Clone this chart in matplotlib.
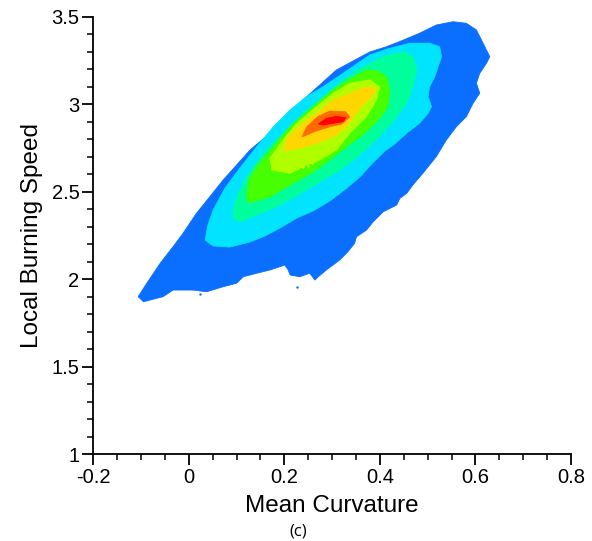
import matplotlib.pyplot as plt
from matplotlib.ticker import MultipleLocator

# Joint PDF of local burning speed vs mean curvature, drawn as filled
# iso-probability bands (outermost level first).

# level 1 (lowest probability)
L1_X = [-0.106, -0.095, -0.054, -0.033, 0.009, 0.037, 0.072, 0.100, 0.114, 0.142,
        0.170, 0.201, 0.208, 0.212, 0.232, 0.253, 0.264, 0.271, 0.288, 0.316,
        0.333, 0.347, 0.351, 0.372, 0.386, 0.407, 0.435, 0.442, 0.456, 0.469,
        0.490, 0.518, 0.539, 0.560, 0.581, 0.595, 0.609, 0.602, 0.609, 0.623,
        0.630, 0.616, 0.602, 0.581, 0.553, 0.518, 0.483, 0.449, 0.414, 0.379,
        0.309, 0.239, 0.170, 0.128, 0.100, 0.072, 0.044, 0.016, -0.012, -0.033,
        -0.060, -0.088]
L1_Y = [1.900, 1.871, 1.900, 1.938, 1.938, 1.928, 1.957, 1.977, 2.014, 2.034,
        2.053, 2.081, 2.053, 2.024, 2.014, 2.034, 1.995, 2.014, 2.053, 2.110,
        2.157, 2.205, 2.243, 2.281, 2.329, 2.386, 2.424, 2.463, 2.491, 2.539,
        2.606, 2.701, 2.796, 2.872, 2.930, 3.006, 3.064, 3.121, 3.178, 3.235,
        3.273, 3.350, 3.426, 3.464, 3.473, 3.454, 3.407, 3.368, 3.330, 3.300,
        3.197, 3.025, 2.835, 2.739, 2.653, 2.568, 2.472, 2.377, 2.263, 2.186,
        2.091, 1.977]

# level 2
L2_X = [0.034, 0.051, 0.086, 0.128, 0.159, 0.191, 0.226, 0.260, 0.295, 0.331,
        0.358, 0.385, 0.410, 0.431, 0.456, 0.483, 0.501, 0.508, 0.501, 0.504,
        0.515, 0.522, 0.529, 0.525, 0.504, 0.463, 0.421, 0.379, 0.323, 0.281,
        0.246, 0.212, 0.177, 0.142, 0.107, 0.076, 0.051, 0.040]
L2_Y = [2.224, 2.190, 2.184, 2.213, 2.247, 2.293, 2.350, 2.390, 2.447, 2.522,
        2.585, 2.665, 2.733, 2.773, 2.835, 2.892, 2.949, 2.987, 3.044, 3.101,
        3.159, 3.216, 3.273, 3.330, 3.350, 3.350, 3.321, 3.283, 3.178, 3.101,
        3.044, 2.968, 2.872, 2.758, 2.636, 2.522, 2.396, 2.310]

# level 3
L3_X = [0.093, 0.107, 0.142, 0.184, 0.228, 0.274, 0.316, 0.358, 0.396, 0.428,
        0.456, 0.469, 0.477, 0.469, 0.449, 0.407, 0.365, 0.323, 0.281, 0.239,
        0.197, 0.156, 0.121, 0.100, 0.093]
L3_Y = [2.350, 2.329, 2.367, 2.415, 2.482, 2.556, 2.625, 2.711, 2.808, 2.905,
        3.006, 3.101, 3.197, 3.273, 3.302, 3.273, 3.216, 3.140, 3.044, 2.949,
        2.835, 2.720, 2.586, 2.472, 2.396]

# level 4
L4_X = [0.124, 0.170, 0.212, 0.260, 0.295, 0.330, 0.368, 0.396, 0.417, 0.421,
        0.414, 0.396, 0.372, 0.337, 0.302, 0.253, 0.212, 0.177, 0.142, 0.126,
        0.121]
L4_Y = [2.436, 2.472, 2.539, 2.613, 2.682, 2.758, 2.835, 2.911, 2.987, 3.082,
        3.157, 3.191, 3.197, 3.145, 3.082, 2.968, 2.872, 2.758, 2.644, 2.568,
        2.482]

# level 5
L5_X = [0.174, 0.212, 0.239, 0.274, 0.309, 0.337, 0.372, 0.393, 0.400, 0.379,
        0.337, 0.302, 0.267, 0.226, 0.197, 0.170]
L5_Y = [2.625, 2.606, 2.644, 2.682, 2.739, 2.835, 2.930, 3.025, 3.101, 3.140,
        3.121, 3.064, 2.987, 2.892, 2.796, 2.693]

# level 6
L6_X = [0.199, 0.232, 0.267, 0.302, 0.327, 0.347, 0.362, 0.383, 0.393, 0.372,
        0.337, 0.302, 0.267, 0.232, 0.205]
L6_Y = [2.733, 2.751, 2.777, 2.814, 2.865, 2.934, 2.991, 3.044, 3.092, 3.101,
        3.064, 3.025, 2.949, 2.876, 2.808]

# level 7
L7_X = [0.237, 0.263, 0.295, 0.320, 0.337, 0.328, 0.295, 0.270, 0.247]
L7_Y = [2.814, 2.844, 2.872, 2.888, 2.928, 2.958, 2.962, 2.930, 2.872]

# level 8 (peak)
L8_X = [0.271, 0.288, 0.309, 0.329, 0.323, 0.302, 0.281]
L8_Y = [2.888, 2.920, 2.931, 2.925, 2.901, 2.892, 2.882]

# isolated low-level specks below the main body
SPECK_X = [0.023, 0.226]
SPECK_Y = [1.915, 1.957]

# small level-6 islands inside level 5
ISLAND_X = [0.240, 0.249, 0.258]
ISLAND_Y = [2.640, 2.650, 2.662]

LEVEL_COLORS = ["#0A6EFF", "#00E4FF", "#00FF9C", "#46FF00",
                "#B0FF00", "#FFD600", "#FF6A00", "#FF0000"]


def main():
    plt.rcParams["font.family"] = ["Liberation Sans", "DejaVu Sans"]

    fig = plt.figure(figsize=(5.92, 5.41), dpi=100)
    ax = fig.add_axes([0.1576, 0.1608, 0.8069, 0.8078])

    bands = [(L1_X, L1_Y), (L2_X, L2_Y), (L3_X, L3_Y), (L4_X, L4_Y),
             (L5_X, L5_Y), (L6_X, L6_Y), (L7_X, L7_Y), (L8_X, L8_Y)]
    for (xs, ys), col in zip(bands, LEVEL_COLORS):
        ax.fill(xs, ys, color=col, lw=0.6, ec=col, zorder=2)

    ax.scatter(SPECK_X, SPECK_Y, s=3, color=LEVEL_COLORS[0], lw=0, zorder=2)
    ax.scatter(ISLAND_X, ISLAND_Y, s=3, color="#E8F000", lw=0, zorder=3)

    ax.set_xlim(-0.2, 0.8)
    ax.set_ylim(1, 3.5)
    ax.xaxis.set_major_locator(MultipleLocator(0.2))
    ax.xaxis.set_minor_locator(MultipleLocator(0.05))
    ax.yaxis.set_major_locator(MultipleLocator(0.5))
    ax.yaxis.set_minor_locator(MultipleLocator(0.1))
    ax.xaxis.set_major_formatter(lambda v, p: f"{v:g}")
    ax.yaxis.set_major_formatter(lambda v, p: f"{v:g}")

    for side in ("top", "right"):
        ax.spines[side].set_visible(False)
    for side in ("left", "bottom"):
        ax.spines[side].set_linewidth(1.3)

    ax.tick_params(which="major", direction="out", length=8, width=1.3,
                   labelsize=14.5, pad=2)
    ax.tick_params(which="minor", direction="out", length=4.5, width=1.1)

    ax.set_xlabel("Mean Curvature", fontsize=17.5, labelpad=6)
    ax.set_ylabel("Local Burning Speed", fontsize=17.5, labelpad=6)

    fig.text(0.503, 0.018, "(c)", ha="center", va="center", fontsize=12,
             family="Open Sans")

    fig.savefig("out.png", dpi=100)


if __name__ == "__main__":
    main()
